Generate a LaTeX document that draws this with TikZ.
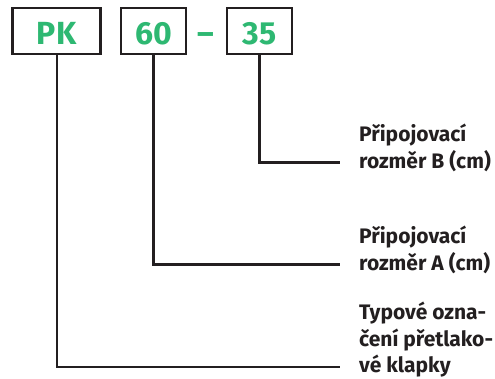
\documentclass[tikz,border=0pt]{standalone}
\usepackage{fontspec}
\setmainfont{Fira Sans}
\definecolor{pkgreen}{HTML}{2EB872}
\definecolor{ink}{HTML}{231F20}
\begin{document}
\begin{tikzpicture}[x=1pt,y=-1pt,
  codefont/.style={text=pkgreen,font=\fontsize{32}{32}\selectfont\bfseries},
  codebox/.style={codefont,draw=ink,line width=2.6pt,fill=white,minimum height=46pt,inner sep=0pt,
    text height=26.6pt,text depth=0pt},
  leader/.style={draw=ink,line width=2.4pt},
  desc/.style={anchor=base west,align=left,inner sep=0pt,text=ink,
    font=\fontsize{21}{26.5}\selectfont\bfseries}]
\useasboundingbox (0,0) rectangle (495,378);
\node[codebox,minimum width=88pt] (pk) at (56.7,31) {PK};
\node[codebox,minimum width=65pt] (a60) at (153.5,31) {60};
\node[codebox,minimum width=65pt] (b35) at (259.5,31) {35};
\node[codefont,inner sep=0pt,anchor=base] (dash) at (205.5,44.3) {–};
\node[desc] (lb) at (359,168.3) {Připojovací\\rozměr B (cm)};
\node[desc] (la) at (359,270.3) {Připojovací\\rozměr A (cm)};
\node[desc] (lt) at (359,372.7) {Typové ozna-\\čení přetlako-\\vé klapky};
\coordinate (eb) at (340,162.3);
\coordinate (ea) at (340,264.3);
\coordinate (et) at (340,366.7);
\draw[leader] (b35.south) |- (eb);
\draw[leader] (a60.south) |- (ea);
\draw[leader] (pk.south) |- (et);
\end{tikzpicture}
\end{document}
